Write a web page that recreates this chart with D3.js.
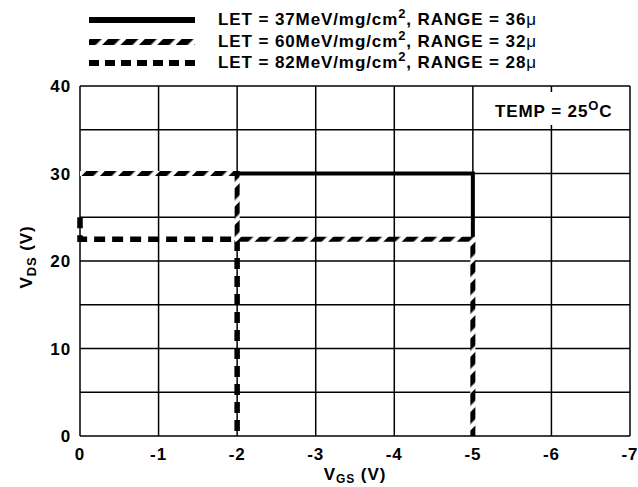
<!DOCTYPE html>
<html>
<head>
<meta charset="utf-8">
<script src="https://cdn.jsdelivr.net/npm/d3@7"></script>
<style>
  body { margin: 0; background: #fff; }
  text { font-family: "Liberation Sans", Arial, sans-serif; font-weight: bold; fill: #000; letter-spacing: 0.9px; }
</style>
</head>
<body>
<div id="canvas"></div>
<script>
// tick values
var xTicks = [0, -1, -2, -3, -4, -5, -6, -7];
var yTicks = [0, 10, 20, 30, 40];
var yGrid = [0, 5, 10, 15, 20, 25, 30, 35, 40];

// curves (VGS, VDS)
var let37 = [[-2, 30], [-5, 30], [-5, 22.5]];
var let60 = [[0, 30], [-2, 30], [-2, 22.5], [-5, 22.5], [-5, 0]];
var let82 = [[0, 25], [0, 22.5], [-2, 22.5], [-2, 0]];

var legendLabels = [
  {let: "37", range: "36"},
  {let: "60", range: "32"},
  {let: "82", range: "28"}
];

const width = 638, height = 487;
const x = d3.scaleLinear().domain([0, -7]).range([80, 630]);
const y = d3.scaleLinear().domain([0, 40]).range([436, 86]);

const svg = d3.select("#canvas")
  .append("svg")
    .attr("width", width)
    .attr("height", height);

// diagonal stripe pattern for the 60 MeV curve
const defs = svg.append("defs");
const pat = defs.append("pattern")
    .attr("id", "stripe")
    .attr("patternUnits", "userSpaceOnUse")
    .attr("width", 13)
    .attr("height", 13)
    .attr("patternTransform", "rotate(45)");
pat.append("rect").attr("width", 13).attr("height", 13).attr("fill", "#fff");
pat.append("rect").attr("width", 8.5).attr("height", 13).attr("fill", "#000");

// grid
svg.append("g")
  .selectAll("line")
  .data(xTicks)
  .enter()
  .append("line")
    .attr("x1", d => x(d)).attr("x2", d => x(d))
    .attr("y1", y(0)).attr("y2", y(40))
    .attr("stroke", "#000").attr("stroke-width", 1.5);

svg.append("g")
  .selectAll("line")
  .data(yGrid)
  .enter()
  .append("line")
    .attr("x1", x(0)).attr("x2", x(-7))
    .attr("y1", d => y(d)).attr("y2", d => y(d))
    .attr("stroke", "#000").attr("stroke-width", 1.5);

// tick labels
svg.append("g")
  .selectAll("text")
  .data(xTicks)
  .enter()
  .append("text")
    .attr("x", d => x(d))
    .attr("y", 460)
    .attr("text-anchor", "middle")
    .style("font-size", "17px")
    .text(d => d === 0 ? "0" : "-" + Math.abs(d));

svg.append("g")
  .selectAll("text")
  .data(yTicks)
  .enter()
  .append("text")
    .attr("x", 71)
    .attr("y", d => y(d) + 6)
    .attr("text-anchor", "end")
    .style("font-size", "17px")
    .text(d => d);

// axis titles
const xt = svg.append("text")
    .attr("x", 355).attr("y", 480)
    .attr("text-anchor", "middle")
    .style("font-size", "17px");
xt.append("tspan").text("V");
xt.append("tspan").attr("dy", 3).style("font-size", "12px").text("GS");
xt.append("tspan").attr("dy", -3).text(" (V)");

const yt = svg.append("text")
    .attr("transform", "translate(32,257) rotate(-90)")
    .attr("text-anchor", "middle")
    .style("font-size", "17px");
yt.append("tspan").text("V");
yt.append("tspan").attr("dy", 4).style("font-size", "13px").text("DS");
yt.append("tspan").attr("dy", -4).text(" (V)");

// temperature label
svg.append("rect")
    .attr("x", 492).attr("y", 92)
    .attr("width", 120).attr("height", 33)
    .attr("fill", "#fff");
const tt = svg.append("text")
    .attr("x", 495).attr("y", 117)
    .style("font-size", "17px");
tt.append("tspan").text("TEMP = 25");
tt.append("tspan").attr("dy", -7).style("font-size", "13px").text("O");
tt.append("tspan").attr("dy", 7).text("C");

// curves
const line = d3.line()
    .x(d => x(d[0]))
    .y(d => y(d[1]));

svg.append("path")
    .datum(let37)
    .attr("d", line)
    .attr("fill", "none")
    .attr("stroke", "#000")
    .attr("stroke-width", 4);

svg.append("path")
    .datum(let82)
    .attr("d", line)
    .attr("fill", "none")
    .attr("stroke", "#000")
    .attr("stroke-width", 5.5)
    .attr("stroke-dasharray", "11,7");

svg.append("path")
    .datum(let60)
    .attr("d", line)
    .attr("fill", "none")
    .attr("stroke", "url(#stripe)")
    .attr("stroke-width", 5);

// legend
const legend = svg.append("g");
const legendY = [20, 42, 63];
const legendStroke = [
  {stroke: "#000", dash: null},
  {stroke: "url(#stripe)", dash: null},
  {stroke: "#000", dash: "10,6"}
];
legendLabels.forEach(function (d, i) {
  legend.append("line")
      .attr("x1", 89).attr("x2", 195)
      .attr("y1", legendY[i]).attr("y2", legendY[i])
      .attr("stroke", legendStroke[i].stroke)
      .attr("stroke-width", 6)
      .attr("stroke-dasharray", legendStroke[i].dash);
  const t = legend.append("text")
      .attr("x", 218).attr("y", legendY[i] + 5)
      .style("font-size", "17px");
  t.append("tspan").text("LET = " + d.let + "MeV/mg/cm");
  t.append("tspan").attr("dy", -7).style("font-size", "13px").text("2");
  t.append("tspan").attr("dy", 7).text(", RANGE = " + d.range);
  t.append("tspan").style("font-weight", "normal").text("\u03bc");
});
</script>
</body>
</html>
